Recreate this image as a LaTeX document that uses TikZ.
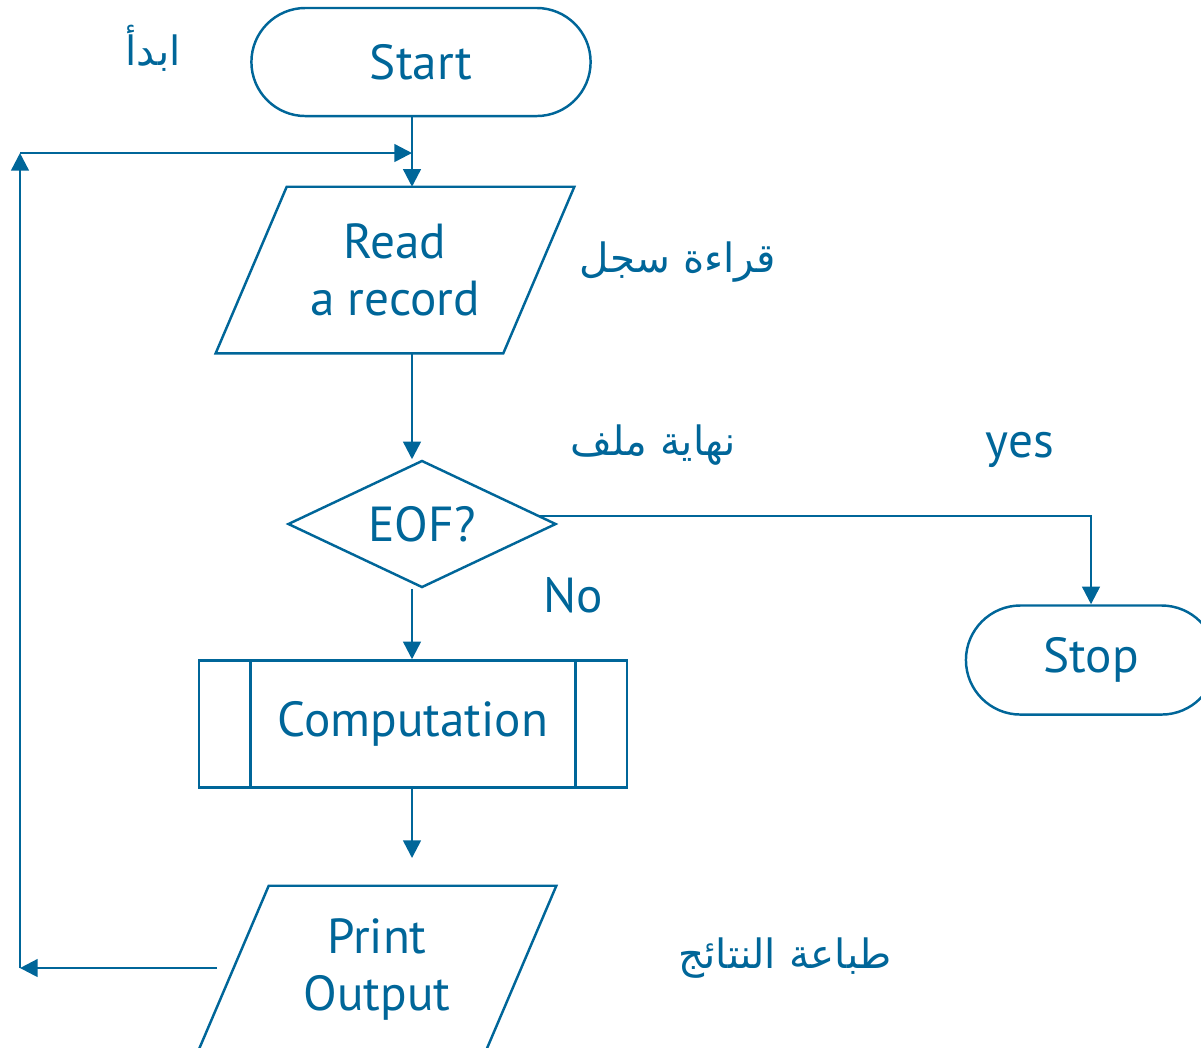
\documentclass[tikz,border=0pt]{standalone}
\usepackage{fontspec}
\setmainfont{PT Sans}
\newfontfamily\arabicfont[Script=Arabic]{DejaVu Sans}
\TeXXeTstate=1
\usetikzlibrary{shapes.geometric,shapes.misc,arrows.meta}
\definecolor{flowblue}{HTML}{006699}

\begin{document}
\begin{tikzpicture}[x=0.01cm, y=-0.01cm, line width=0.7pt, color=flowblue,
        font=\fontsize{14}{16.2}\selectfont,
        term/.style = {draw, rounded rectangle, inner sep=0pt},
        io/.style = {rectangle, minimum width=2.85cm, minimum height=1.64cm, align=center, inner sep=0pt},
        test/.style = {draw, diamond, aspect=2.1, inner sep=0pt},
        proc/.style = {draw, rectangle, minimum width=4.28cm, minimum height=1.27cm},
        arab/.style = {font=\fontsize{11.5}{14}\arabicfont},
        arr/.style = {-{Triangle[length=5pt,width=5pt]}}]
        \useasboundingbox (0,0) rectangle (1201,1047);

        \node[term, minimum width=3.39cm, minimum height=1.08cm] (1) at (421,62) {Start};
        \node[io] (2) at (395,270) {Read\\a record};
        \node[test, minimum width=2.68cm, minimum height=1.27cm] (3) at (422,524) {EOF?};
        \node[proc] (4) at (413,724) {Computation};
        \node[io] (5) at (377,969) {Print\\Output};
        \node[term, minimum width=2.5cm, minimum height=1.09cm] (6) at (1091,660) {Stop};

        % slanted sides of the input/output boxes
        \foreach \n in {2,5}
            \draw ([xshift=-0.355cm]\n.south west) -- ([xshift=0.355cm]\n.north west)
                -- ([xshift=0.355cm]\n.north east) -- ([xshift=-0.355cm]\n.south east) -- cycle;

        \draw ([xshift=0.53cm]4.north west) -- ([xshift=0.53cm]4.south west);
        \draw ([xshift=-0.53cm]4.north east) -- ([xshift=-0.53cm]4.south east);

        \node[arab] (7) at (153,48) {\beginR ابدأ\endR};
        \node[arab] (8) at (678,262) {\beginR قراءة سجل\endR};
        \node[arab] (9) at (653,445) {\beginR نهاية ملف\endR};
        \node (10) at (1020,450) {yes};
        \node (11) at (573,595) {No};
        \node[arab] (12) at (785,958) {\beginR طباعة النتائج\endR};

        \coordinate (c0) at (217,968);
        \coordinate (c1) at (20,968);
        \coordinate (c2) at (20,153);
        \coordinate (c3) at (412,153);
        \coordinate (c4) at (412,858);
        \coordinate (c5) at (540,516);

        \draw[arr] (1.south -| c3) -- (2.north -| c3);
        \draw[arr] (2.south -| c3) -- (3.north -| c3);
        \draw[arr] (3.south -| c3) -- (4.north -| c3);
        \draw[arr] (4.south -| c4) -- (c4);
        \draw[arr] (c5) -| (6.north);

        \draw[arr] (c0) -- (c1);
        \draw[arr] (c1) -- (c2);
        \draw[arr] (c2) -- (c3);
    \end{tikzpicture}
\end{document}
